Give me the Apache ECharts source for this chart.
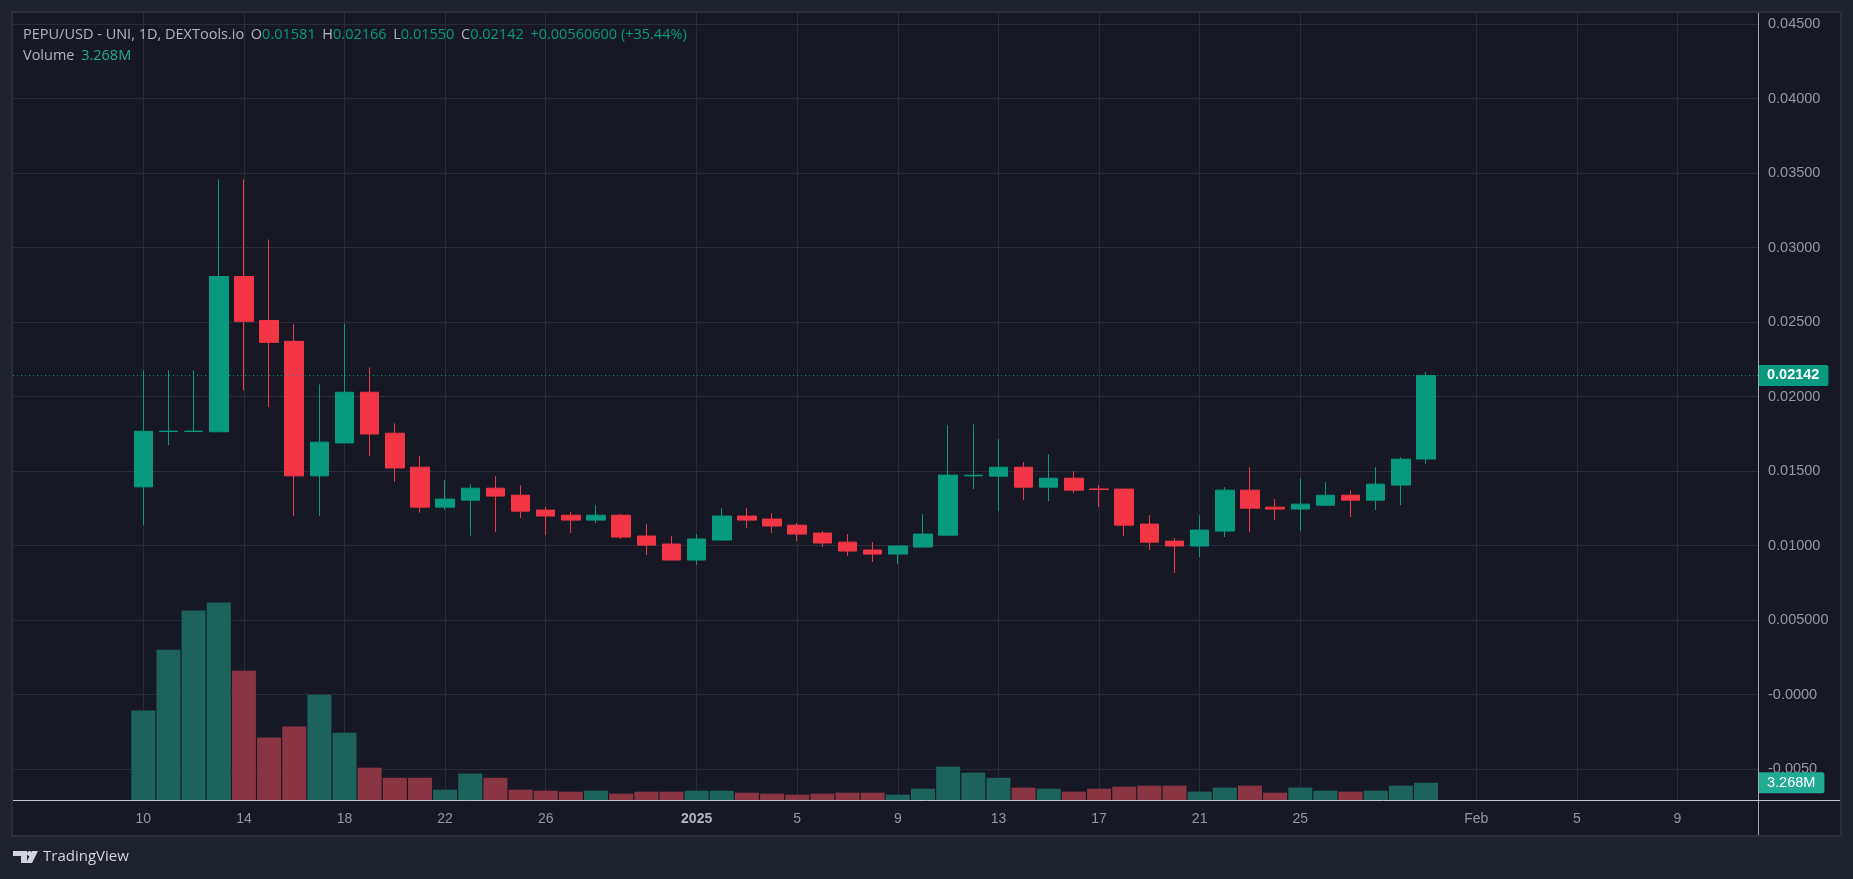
<!DOCTYPE html>
<html>
<head>
<meta charset="utf-8">
<title>PEPU/USD</title>
<style>
  html, body { margin: 0; padding: 0; background: #1e222d; }
  #chart { width: 1853px; height: 879px; }
</style>
<script src="https://cdn.jsdelivr.net/npm/echarts@6/dist/echarts.min.js"></script>
</head>
<body>
<div id="chart"></div>
<script>
var dates = [
  '2024-12-10','2024-12-11','2024-12-12','2024-12-13','2024-12-14','2024-12-15','2024-12-16','2024-12-17',
  '2024-12-18','2024-12-19','2024-12-20','2024-12-21','2024-12-22','2024-12-23','2024-12-24','2024-12-25',
  '2024-12-26','2024-12-27','2024-12-28','2024-12-29','2024-12-30','2024-12-31','2025-01-01','2025-01-02',
  '2025-01-03','2025-01-04','2025-01-05','2025-01-06','2025-01-07','2025-01-08','2025-01-09','2025-01-10',
  '2025-01-11','2025-01-12','2025-01-13','2025-01-14','2025-01-15','2025-01-16','2025-01-17','2025-01-18',
  '2025-01-19','2025-01-20','2025-01-21','2025-01-22','2025-01-23','2025-01-24','2025-01-25','2025-01-26',
  '2025-01-27','2025-01-28','2025-01-29','2025-01-30'
];
var opens = [
  .01394,.01766,.01766,.01764,.02806,.02511,.02371,.01468,.01689,.02029,.01754,.01526,.01258,.01305,.01385,.01338,
  .01238,.01204,.01171,.01204,.01064,.0101,.00903,.01037,.01198,.01178,.01137,.01084,.01023,.0097,.00943,.0099,
  .0107,.01468,.01466,.01526,.01392,.01452,.0138,.01379,.01144,.0103,.00997,.01097,.01372,.01258,.01245,.01271,
  .01338,.01305,.01406,.01581
];
var closes = [
  .01767,.01768,.01768,.02806,.02505,.02364,.01468,.01694,.02029,.01749,.01521,.01258,.01312,.01385,.01332,.01231,
  .01198,.01171,.01204,.01057,.01003,.00903,.01044,.01198,.01171,.01131,.01077,.01017,.00963,.00943,.00997,.01077,
  .01473,.01472,.01526,.01392,.01452,.01372,.01376,.01137,.01023,.00997,.01104,.01372,.01251,.01245,.01278,.01338,
  .01305,.01412,.0158,.02142
];
var lows = [
  .01137,.01674,.01764,.01764,.02042,.0193,.01198,.01198,.01689,.01602,.01428,.0122,.0124,.01066,.0109,.01184,
  .0107,.01084,.01151,.01044,.00936,.00903,.00869,.01037,.01117,.01084,.0103,.0099,.0093,.00889,.00876,.0099,
  .01064,.01379,.01231,.01305,.01298,.01352,.01258,.01064,.0097,.00816,.00923,.01057,.0109,.01171,.01097,.01265,
  .01191,.01238,.01271,.0155
];
var highs = [
  .02176,.02176,.02176,.03458,.03458,.03054,.02485,.02082,.02491,.02196,.01821,.016,.01439,.01412,.01466,.01405,
  .01258,.01225,.01271,.01211,.01144,.01064,.01077,.01251,.01251,.01218,.01151,.01097,.01077,.01023,.00997,.01211,
  .01808,.01814,.01714,.0156,.01613,.01499,.01406,.01379,.01204,.0105,.01204,.01392,.01526,.01312,.01452,.01426,
  .01372,.01526,.01593,.02166
];
// 成交量，单位 M
var volumes = [
  16.9,28.4,35.8,37.3,24.4,11.8,13.9,19.9,12.7,6.1,4.2,4.2,1.95,5.0,4.2,1.95,
  1.76,1.57,1.76,1.2,1.57,1.57,1.76,1.76,1.39,1.2,1.0,1.2,1.39,1.39,1.0,2.14,
  6.3,5.17,4.2,2.33,2.14,1.58,2.14,2.52,2.71,2.71,1.58,2.33,2.71,1.39,2.33,1.76,
  1.58,1.76,2.71,3.268
];
var priceTicks = [0.045,0.04,0.035,0.03,0.025,0.02,0.015,0.01,0.005,0,-0.005];
var priceTickLabels = ['0.04500','0.04000','0.03500','0.03000','0.02500','0.02000','0.01500','0.01000','0.005000','-0.0000','-0.0050'];
var timeTicks = ['2024-12-10','2024-12-14','2024-12-18','2024-12-22','2024-12-26','2025-01-01','2025-01-05','2025-01-09','2025-01-13','2025-01-17','2025-01-21','2025-01-25','2025-02-01','2025-02-05','2025-02-09'];
var timeTickLabels = ['10','14','18','22','26','2025','5','9','13','17','21','25','Feb','5','9'];
var lastChange = '+0.00560600 (+35.44%)';

var UP = '#089981', DOWN = '#f23645';
var VOL_UP = '#1c635c', VOL_DOWN = '#8a3544';
var AXIS_TEXT = '#9598a1', LEGEND_TEXT = '#b2b5be';
var AXIS_FONT = '"Liberation Sans", Arial, sans-serif';
var LEGEND_FONT = '"Open Sans", sans-serif';

// x 轴按天数计：第一根K线为 0
function dayIndex(s) {
  return Math.round((Date.parse(s + 'T00:00:00Z') - Date.parse(dates[0] + 'T00:00:00Z')) / 86400000);
}

var tickDays = timeTicks.map(dayIndex);

var candleData = dates.map(function(d, i) {
  return [dayIndex(d), opens[i], closes[i], lows[i], highs[i]];
});
var volumeData = dates.map(function(d, i) {
  return {
    value: [dayIndex(d), volumes[i]],
    itemStyle: { color: closes[i] >= opens[i] ? VOL_UP : VOL_DOWN }
  };
});

var last = dates.length - 1;

var chart = echarts.init(document.getElementById('chart'), null, { renderer: 'canvas' });

var option = {
  animation: false,
  backgroundColor: '#1e222d',
  grid: { left: 13, right: 95, top: 13, height: 787, containLabel: false },
  xAxis: {
    type: 'value',
    min: -5.181,
    max: 64.2,
    axisLine: { show: false },
    axisTick: { show: false, customValues: tickDays },
    splitLine: { show: true, lineStyle: { color: '#2a2d39', width: 1 } },
    axisLabel: {
      customValues: tickDays,
      margin: 12,
      color: AXIS_TEXT,
      fontSize: 14,
      fontFamily: AXIS_FONT,
      hideOverlap: false,
      formatter: function(value) {
        var text = timeTickLabels[tickDays.indexOf(value)];
        return text === '2025' ? '{year|' + text + '}' : text;
      },
      rich: { year: { color: LEGEND_TEXT, fontSize: 14, fontWeight: 'bold', fontFamily: AXIS_FONT } }
    }
  },
  yAxis: [
    {
      type: 'value',
      position: 'right',
      min: -0.00708,
      max: 0.04575,
      axisLine: { show: false },
      axisTick: { show: false, customValues: priceTicks },
      splitLine: { show: true, lineStyle: { color: '#2a2d39', width: 1 } },
      axisLabel: {
        customValues: priceTicks,
        margin: 10,
        color: AXIS_TEXT,
        fontSize: 14.5,
        fontFamily: AXIS_FONT,
        formatter: function(value) { return priceTickLabels[priceTicks.indexOf(value)]; }
      }
    },
    {
      // 成交量叠加在底部，不显示轴
      type: 'value',
      min: 0,
      max: 148.7,
      show: false,
      splitLine: { show: false }
    }
  ],
  series: [
    {
      name: 'Volume',
      type: 'bar',
      yAxisIndex: 1,
      barWidth: 24,
      z: 2,
      data: volumeData,
      markLine: {
        silent: true,
        symbol: 'none',
        precision: 4,
        lineStyle: { width: 0, color: 'transparent' },
        label: {
          position: 'end',
          distance: 0,
          formatter: volumes[last].toFixed(3) + 'M',
          color: '#fff',
          fontSize: 14.5,
          fontFamily: AXIS_FONT,
          backgroundColor: '#22ab94',
          padding: [3, 9, 3, 9],
          borderRadius: [0, 2, 2, 0]
        },
        data: [{ yAxis: volumes[last] }]
      }
    },
    {
      name: 'PEPU/USD',
      type: 'candlestick',
      yAxisIndex: 0,
      barWidth: 19,
      z: 3,
      itemStyle: {
        color: UP,
        color0: DOWN,
        borderColor: UP,
        borderColor0: DOWN,
        borderWidth: 1
      },
      encode: { x: 0, y: [1, 2, 3, 4] },
      data: candleData,
      markLine: {
        silent: true,
        symbol: 'none',
        precision: 5,
        lineStyle: { type: [1, 3], color: UP, width: 1 },
        label: {
          position: 'end',
          distance: 0,
          formatter: closes[last].toFixed(5),
          color: '#fff',
          fontSize: 14.5,
          fontWeight: 'bold',
          fontFamily: AXIS_FONT,
          backgroundColor: UP,
          padding: [3, 9, 3, 9],
          borderRadius: [0, 2, 2, 0]
        },
        data: [{ yAxis: closes[last] }]
      }
    }
  ],
  graphic: [
    // 面板底色和边框
    { type: 'rect', z: -10, silent: true, shape: { x: 12, y: 12, width: 1829, height: 824 }, style: { fill: '#161824', stroke: '#2a2e39', lineWidth: 2 } },
    // 价格轴与时间轴的分隔线
    { type: 'line', z: 10, silent: true, shape: { x1: 1758.5, y1: 13, x2: 1758.5, y2: 835 }, style: { stroke: '#a3a6af', lineWidth: 1 } },
    { type: 'line', z: 10, silent: true, shape: { x1: 13, y1: 800.5, x2: 1840, y2: 800.5 }, style: { stroke: '#c4c6cc', lineWidth: 1 } },
    // 左上角图例
    {
      type: 'text', z: 20, silent: true, x: 23, y: 27,
      style: {
        text: '{t|PEPU/USD - UNI, 1D, DEXTools.io}  {t|O}{v|' + opens[last].toFixed(5) + '}  {t|H}{v|' + highs[last].toFixed(5) +
          '}  {t|L}{v|' + lows[last].toFixed(5) + '}  {t|C}{v|' + closes[last].toFixed(5) +
          '}  {v|' + lastChange + '}',
        rich: {
          t: { fill: LEGEND_TEXT, fontSize: 14.5, fontFamily: LEGEND_FONT },
          v: { fill: UP, fontSize: 14.5, fontFamily: LEGEND_FONT }
        }
      }
    },
    {
      type: 'text', z: 20, silent: true, x: 23, y: 48,
      style: {
        text: '{t|Volume}  {v|' + volumes[last].toFixed(3) + 'M}',
        rich: {
          t: { fill: LEGEND_TEXT, fontSize: 14.5, fontFamily: LEGEND_FONT },
          v: { fill: '#22ab94', fontSize: 14.5, fontFamily: LEGEND_FONT }
        }
      }
    },
    // TradingView 标识
    { type: 'polygon', z: 20, silent: true, shape: { points: [[13, 851], [27, 851], [27, 863], [21, 863], [21, 856], [13, 856]] }, style: { fill: '#d1d4dc' } },
    { type: 'circle', z: 20, silent: true, shape: { cx: 29.5, cy: 853.5, r: 2.5 }, style: { fill: '#d1d4dc' } },
    { type: 'polygon', z: 20, silent: true, shape: { points: [[32, 851], [38, 851], [32, 863], [26, 863]] }, style: { fill: '#d1d4dc' } },
    { type: 'text', z: 20, silent: true, x: 43, y: 849, style: { text: 'TradingView', fill: '#d1d4dc', fontSize: 15, fontFamily: LEGEND_FONT } }
  ]
};

chart.setOption(option);
</script>
</body>
</html>
